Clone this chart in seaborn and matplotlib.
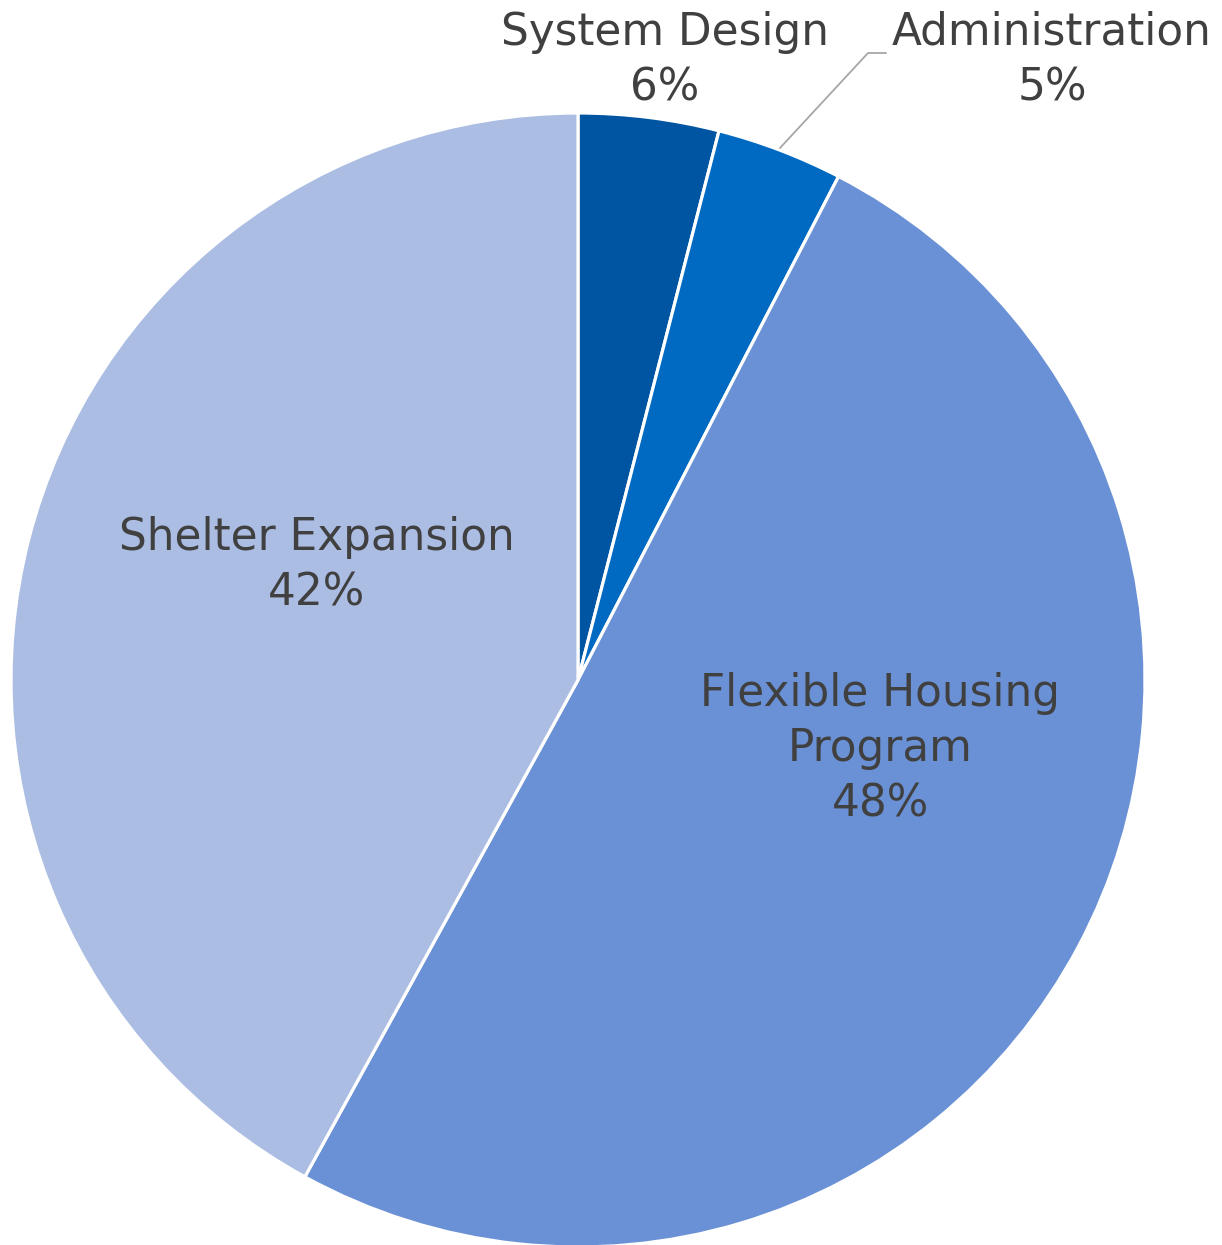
import matplotlib
matplotlib.use("Agg")
import matplotlib.pyplot as plt
import seaborn as sns

categories = ["System Design", "Administration", "Flexible Housing\nProgram", "Shelter Expansion"]
shares = [4.0, 3.6, 50.4, 42.0]          # slice sizes as drawn
pct_labels = ["6%", "5%", "48%", "42%"]   # percentages printed on the chart
colors = ["#0055A2", "#006AC2", "#6A91D5", "#ABBDE3"]

sns.set_theme(style="white")
plt.rcParams["font.family"] = ["DejaVu Sans"]

W, H = 1222, 1245
fig = plt.figure(figsize=(W / 100, H / 100), dpi=100)
cx, cy, r = 578, 680, 567
ax = fig.add_axes([(cx - r) / W, (H - cy - r) / H, 2 * r / W, 2 * r / H])

wedges, _ = ax.pie(shares, colors=colors, startangle=90, counterclock=False,
                   radius=1.0, wedgeprops=dict(edgecolor="white", linewidth=2.3))
ax.set_xlim(-1, 1)
ax.set_ylim(-1, 1)
ax.axis("off")

def px(x, y):
    return (x - cx) / r, (cy - y) / r

tc = "#404040"
fs = 31.5
label_pos = [(665, 60), (1052, 60), (880, 749), (317, 565)]
for cat, pct, (lx, ly) in zip(categories, pct_labels, label_pos):
    x, y = px(lx, ly)
    ax.text(x, y, f"{cat}\n{pct}", ha="center", va="center", fontsize=fs,
            color=tc, linespacing=1.36, clip_on=False)

# leader line for Administration
pts = [px(780, 148), px(868, 53), px(886, 53)]
ax.plot([p[0] for p in pts], [p[1] for p in pts], color="#A6A6A6", lw=1.3, clip_on=False)

fig.savefig("out.png", dpi=100, facecolor="white")
